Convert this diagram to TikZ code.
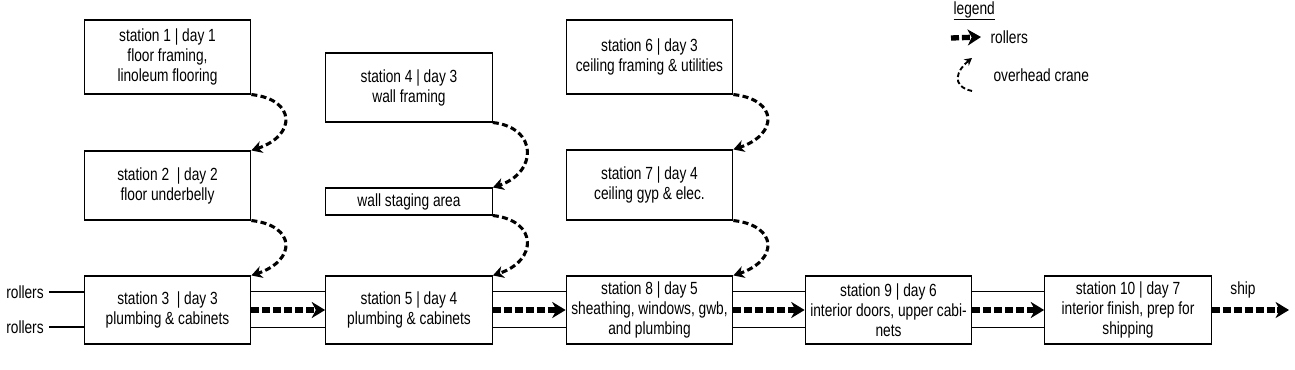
\documentclass[tikz,border=0pt]{standalone}
\usepackage{fontspec}
\setmainfont{Liberation Sans}[FakeStretch=0.78]
\usetikzlibrary{arrows.meta,positioning,calc}
\tikzset{
  stage/.style={draw, thick, font=\fontsize{13.2}{15}\selectfont, align=center,
    minimum width=125pt, minimum height=51pt, inner sep=0pt},
  roll/.style={-{Stealth[length=10pt, width=12pt, inset=3pt]}, line width=4pt,
    dash pattern=on 6pt off 2.2pt},
  crane/.style={-{Stealth[length=8pt, width=9pt, inset=2.5pt]}, line width=2.3pt,
    dash pattern=on 4.5pt off 2.5pt},
  cranelg/.style={-{Stealth[length=5.5pt, width=6pt]}, line width=1.4pt,
    dash pattern=on 3.5pt off 2pt},
  lbl/.style={font=\fontsize{13.2}{15}\selectfont, inner sep=1pt},
  track/.style={thick},
}

\begin{document}
\begin{tikzpicture}[x=0.75pt, y=-0.75pt]
\useasboundingbox (0,0) rectangle (1295,370);

% stations, column by column
\node[stage, minimum height=55.5pt] (st1) at (167.5,57) {station 1 | day 1\\floor framing,\\linoleum flooring};
\node[stage, minimum height=51.75pt] (st2) at (167.5,185.5) {station 2\ \ | day 2\\floor underbelly};
\node[stage] (st3) at (167.5,310) {station 3\ \ | day 3\\plumbing \& cabinets};
\node[stage, minimum height=51.75pt] (st4) at (409,87.5) {station 4 | day 3\\wall framing};
\node[stage, minimum height=20.25pt] (stag) at (409,201.5) {wall staging area};
\node[stage] (st5) at (409,310) {station 5 | day 4\\plumbing \& cabinets};
\node[stage, minimum height=55.5pt] (st6) at (649.5,57) {station 6 | day 3\\ceiling framing \& utilities};
\node[stage, minimum height=52.5pt] (st7) at (649.5,185) {station 7 | day 4\\ceiling gyp \& elec.};
\node[stage] (st8) at (649.5,310) {station 8 | day 5\\sheathing, windows, gwb,\\and plumbing};
\node[stage] (st9) at (888.5,310) {station 9 | day 6\\interior doors, upper cabi-\\nets};
\node[stage] (st10) at (1128,310) {station 10 | day 7\\interior finish, prep for\\shipping};

% roller tracks
\node[lbl] (r1) at (25,292) {rollers};
\node[lbl] (r2) at (25,327) {rollers};
\draw[track] ([xshift=3pt]r1.east) -- (r1.east -| st3.west);
\draw[track] ([xshift=3pt]r2.east) -- (r2.east -| st3.west);
\foreach \a/\b in {st3/st5, st5/st8, st8/st9, st9/st10} {
  \draw[track] ([yshift=-12pt]\a.north east) -- ([yshift=-12pt]\b.north west);
  \draw[track] ([yshift=12.75pt]\a.south east) -- ([yshift=12.75pt]\b.south west);
  \draw[roll] (\a) -- (\b);
}
\node[lbl] (ship) at (1243,290) {ship};
\coordinate (shipend) at (1289,310);
\draw[roll] (st10) -- (shipend);

% overhead crane moves
\foreach \a/\b in {st1/st2, st2/st3, st4/stag, stag/st5, st6/st7, st7/st8}
  \draw[crane] (\a.south east) .. controls +(45,5) and +(45,-15) .. (\b.north east);

% legend
\node[lbl, anchor=west] (lgtitle) at (952,11) {\underline{legend}};
\node[lbl, anchor=west] (lgroll) at (989,37) {rollers};
\coordinate (lr0) at (951,38);
\draw[roll] (lr0) -- ([xshift=-6pt]lgroll.west);
\node[lbl, anchor=west] (lgcrane) at (992,75) {overhead crane};
\coordinate (lc0) at (972,91);
\coordinate (lc1) at (972,58);
\draw[cranelg] (lc0) .. controls +(-22,-5) and +(-15,12) .. (lc1);

\end{tikzpicture}
\end{document}
